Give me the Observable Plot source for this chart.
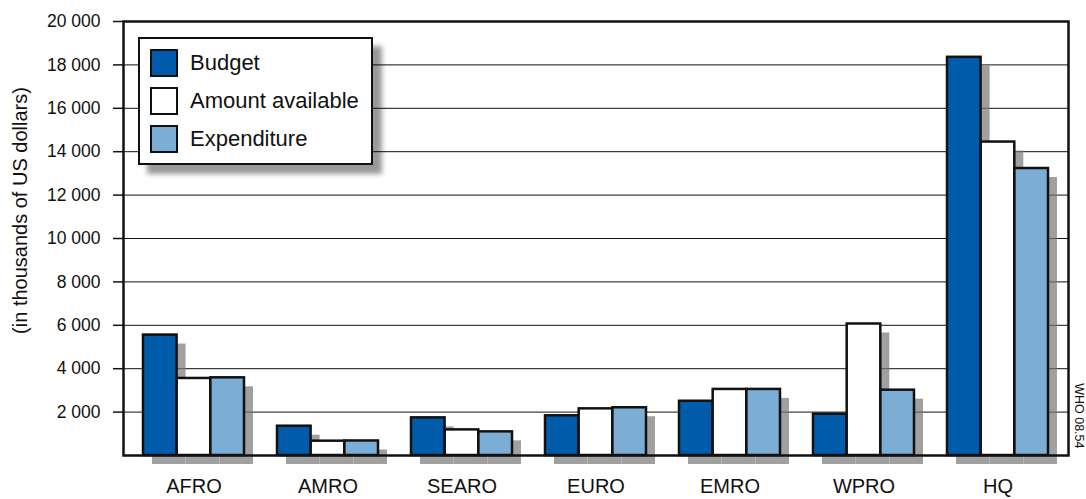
<!DOCTYPE html>
<html><head><meta charset="utf-8">
<script src="https://cdn.jsdelivr.net/npm/d3@7"></script>
<script src="https://cdn.jsdelivr.net/npm/@observablehq/plot@0.6"></script>
<style>
body{margin:0;background:#fff;}
#wrap{position:relative;width:1086px;height:499px;font-family:"Liberation Sans",Arial,sans-serif;color:#111;}
#wrap svg{display:block;font-family:"Liberation Sans",Arial,sans-serif;}
#legend{position:absolute;left:138px;top:37px;width:235px;height:128px;box-sizing:border-box;border:2.5px solid #111;background:#fff;box-shadow:9px 9px 5px rgba(0,0,0,0.4);}
.item{position:absolute;left:10px;height:28px;display:flex;align-items:center;white-space:nowrap;}
.sw{width:28px;height:28px;box-sizing:border-box;border:2.5px solid #111;margin-right:12px;flex:none;}
.lt{font-size:22px;line-height:28px;}
</style></head><body><div id="wrap"></div>
<script>
const categories = ["AFRO","AMRO","SEARO","EURO","EMRO","WPRO","HQ"];
const series = ["Budget","Amount available","Expenditure"];
const budget      = [5550, 1350, 1735, 1830, 2500, 1905, 18350];
const available   = [3550,  660, 1180, 2150, 3045, 6060, 14445];
const expenditure = [3580,  670, 1090, 2200, 3045, 3010, 13225];
const colors = ["#005baa","#ffffff","#7badd5"];
const yTicks = [2000,4000,6000,8000,10000,12000,14000,16000,18000,20000];
const yLabel = "(in thousands of US dollars)";
const credit = "WHO 08.54";

const seriesValues = [budget, available, expenditure];
const W = 1086, H = 499, mL = 123, mR = 18, mT = 21, mB = 44;
const xOpts = {domain: categories, paddingInner: 0.25, paddingOuter: 0.13};
const xs = Plot.scale({x: {type: "band", ...xOpts, range: [mL, W - mR]}});
const bw = xs.bandwidth;
const fmt = d => d3.format(",")(d).replace(/,/g, " ");

const rowsFor = arr => categories.map((c, i) => ({category: c, value: arr[i]}));

const shadowMarks = seriesValues.map((arr, i) => Plot.barY(rowsFor(arr), {
  x: "category", y: "value", fill: "#777", fillOpacity: 0.7,
  insetLeft: i * bw / 3, insetRight: (2 - i) * bw / 3, dx: 9, dy: 9
}));
const barMarks = seriesValues.map((arr, i) => Plot.barY(rowsFor(arr), {
  x: "category", y: "value", fill: colors[i], stroke: "#111", strokeWidth: 2.5,
  insetLeft: i * bw / 3, insetRight: (2 - i) * bw / 3
}));

const chart = Plot.plot({
  width: W, height: H,
  marginLeft: mL, marginRight: mR, marginTop: mT, marginBottom: mB,
  style: {fontFamily: "Liberation Sans, Arial, sans-serif"},
  x: {...xOpts, label: null},
  y: {domain: [0, 20000], label: null},
  marks: [
    Plot.gridY(yTicks.slice(0, -1), {stroke: "#111", strokeOpacity: 1, strokeWidth: 1}),
    ...shadowMarks,
    ...barMarks,
    Plot.frame({stroke: "#111", strokeWidth: 2.5}),
    Plot.axisY(yTicks, {tickSize: 10, tickPadding: 13, tickFormat: fmt, stroke: "#111", strokeWidth: 1.5,
      fontSize: 17.5, fill: "#111", label: null}),
    Plot.axisX({tickSize: 0, tickPadding: 23, fontSize: 20, fill: "#111", label: null}),
    Plot.text([yLabel], {frameAnchor: "left", textAnchor: "middle", rotate: -90, dx: -103, dy: -28, fontSize: 20, fill: "#111", lineAnchor: "middle"}),
    Plot.text([credit], {frameAnchor: "bottom-right", rotate: 90, dx: 10, dy: -7, textAnchor: "end", lineAnchor: "middle",
      fontSize: 12.5, fill: "#111"})
  ]
});
const wrap = document.getElementById("wrap");
wrap.appendChild(chart);

const legend = document.createElement("div");
legend.id = "legend";
series.forEach((s, i) => {
  const it = document.createElement("div");
  it.className = "item";
  it.style.top = (9.5 + i * 38) + "px";
  const sw = document.createElement("div");
  sw.className = "sw"; sw.style.background = colors[i];
  const t = document.createElement("span");
  t.className = "lt"; t.textContent = s;
  it.appendChild(sw); it.appendChild(t);
  legend.appendChild(it);
});
wrap.appendChild(legend);
</script></body></html>
